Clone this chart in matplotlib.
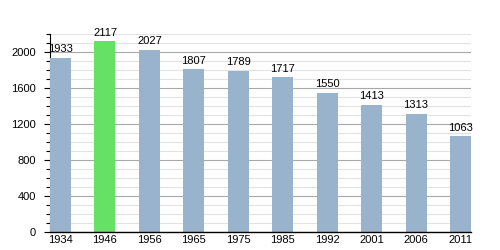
import numpy as np
import matplotlib.pyplot as plt
from matplotlib.ticker import MultipleLocator

# datos
years = ["1934", "1946", "1956", "1965", "1975", "1985", "1992", "2001", "2006", "2011"]
population = [1933, 2117, 2027, 1807, 1789, 1717, 1550, 1413, 1313, 1063]
highlight = "1946"

BLUE = "#9ab3cd"
GREEN = "#66e166"

plt.rcParams['font.family'] = ['Liberation Sans', 'DejaVu Sans']

fig = plt.figure(figsize=(5, 2.5), dpi=100)
ax = fig.add_axes([0.1, 0.072, 0.842, 0.792])

x = np.arange(len(years))
w = 0.473
colors = [GREEN if y == highlight else BLUE for y in years]
ax.bar(x, population, width=w, color=colors, zorder=3)

for xi, v in zip(x, population):
    ax.text(xi, v + 40, str(v), ha='center', va='bottom', fontsize=8, zorder=4)

ax.set_xlim(-w / 2, len(years) - 1 + w / 2)
ax.set_ylim(0, 2200)
ax.set_xticks(x)
ax.set_xticklabels(years, fontsize=8)
ax.yaxis.set_major_locator(MultipleLocator(400))
ax.yaxis.set_minor_locator(MultipleLocator(100))
ax.tick_params(axis='y', labelsize=8, length=4, width=0.8, which='major', pad=6)
ax.tick_params(axis='y', length=3, width=0.8, which='minor')
ax.tick_params(axis='x', length=0, pad=2)

# rejilla
ax.grid(axis='y', which='minor', color='#e2e2e2', lw=0.8, zorder=1)
ax.grid(axis='y', which='major', color='#a8a8a8', lw=0.8, zorder=2)

for s in ['top', 'right']:
    ax.spines[s].set_visible(False)
ax.spines['left'].set_linewidth(0.8)
ax.spines['bottom'].set_linewidth(1.0)
ax.spines['bottom'].set_zorder(5)

fig.savefig("out.png", dpi=100)
